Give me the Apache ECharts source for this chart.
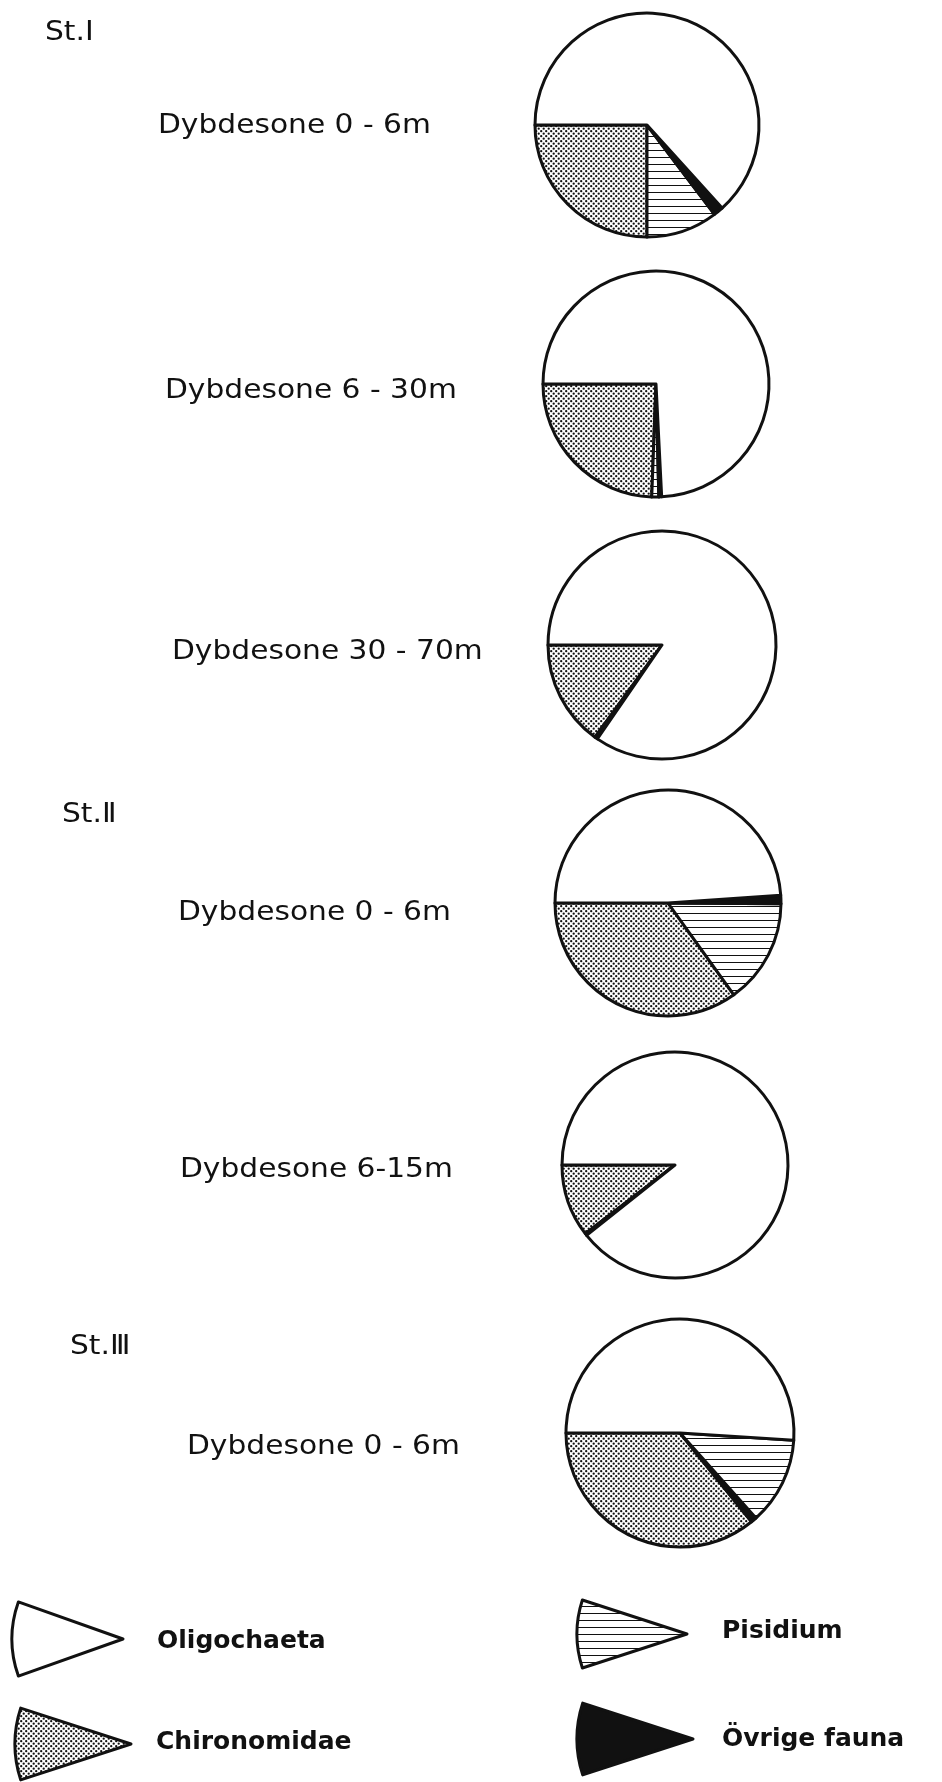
<!DOCTYPE html>
<html>
<head>
<meta charset="utf-8">
<script src="https://cdn.jsdelivr.net/npm/echarts@6/dist/echarts.min.js"></script>
<style>
  html, body { margin: 0; padding: 0; background: #fff; }
  #chart { width: 942px; height: 1782px; }
</style>
</head>
<body>
<div id="chart"></div>
<script>
// one pie per sampling depth
const depthLabels = ['Dybdesone 0 - 6m', 'Dybdesone 6 - 30m', 'Dybdesone 30 - 70m',
                     'Dybdesone 0 - 6m', 'Dybdesone 6-15m', 'Dybdesone 0 - 6m'];
const stationLabels = ['St.Ⅰ', 'St.Ⅱ', 'St.Ⅲ'];
const groups = ['Oligochaeta', 'Chironomidae', 'Pisidium', 'Övrige fauna'];

// share of the bottom fauna in each pie, percent
const oligochaeta  = [63.3, 74.2, 84.6, 48.9, 89.3, 51.0];
const chironomidae = [25.0, 24.4, 15.0, 34.9, 10.4, 35.8];
const pisidium     = [10.3,  1.0,  0.0, 15.0,  0.0, 12.4];
const ovrige       = [ 1.4,  0.4,  0.4,  1.2,  0.3,  0.8];

// order of the sectors, going down from 9 o'clock
const sectorOrder = [
  ['Chironomidae', 'Pisidium', 'Övrige fauna', 'Oligochaeta'],
  ['Chironomidae', 'Pisidium', 'Övrige fauna', 'Oligochaeta'],
  ['Chironomidae', 'Pisidium', 'Övrige fauna', 'Oligochaeta'],
  ['Chironomidae', 'Pisidium', 'Övrige fauna', 'Oligochaeta'],
  ['Chironomidae', 'Pisidium', 'Övrige fauna', 'Oligochaeta'],
  ['Chironomidae', 'Övrige fauna', 'Pisidium', 'Oligochaeta']
];

const shares = {
  'Oligochaeta': oligochaeta,
  'Chironomidae': chironomidae,
  'Pisidium': pisidium,
  'Övrige fauna': ovrige
};

// layout
const pieCenters = [[647, 125], [656, 384], [662, 645], [668, 903], [675, 1165], [680, 1433]];
const pieRadius = [112, 113, 114, 113, 113, 114];
const depthPos = [[158, 126], [165, 391], [172, 652], [178, 913], [180, 1170], [187, 1447]];
const stationPos = [[45, 33], [62, 815], [70, 1347]];
const legendPos = {
  'Oligochaeta':  { tip: [123, 1639], r: 111, half: 19.5, text: [157, 1641] },
  'Chironomidae': { tip: [131, 1744], r: 116, half: 18, text: [156, 1742] },
  'Pisidium':     { tip: [687, 1634], r: 110, half: 18, text: [722, 1631] },
  'Övrige fauna': { tip: [693, 1739], r: 116, half: 18, text: [722, 1739] }
};

// fills: plain, stipple, horizontal hatching, solid black
function dotTile() {
  const c = document.createElement('canvas');
  c.width = 5; c.height = 5;
  const g = c.getContext('2d');
  g.fillStyle = '#fff';
  g.fillRect(0, 0, 5, 5);
  g.fillStyle = '#111';
  [[1.2, 1.2], [3.7, 3.7]].forEach(function (p) {
    g.beginPath();
    g.arc(p[0], p[1], 1.15, 0, Math.PI * 2);
    g.fill();
  });
  return c;
}
function lineTile() {
  const c = document.createElement('canvas');
  c.width = 4; c.height = 7;
  const g = c.getContext('2d');
  g.fillStyle = '#fff';
  g.fillRect(0, 0, 4, 7);
  g.fillStyle = '#111';
  g.fillRect(0, 3, 4, 1);
  return c;
}
const fills = {
  'Oligochaeta': '#fff',
  'Chironomidae': { image: dotTile(), repeat: 'repeat' },
  'Pisidium': { image: lineTile(), repeat: 'repeat' },
  'Övrige fauna': '#111'
};

const series = pieCenters.map(function (c, i) {
  return {
    type: 'pie',
    center: c,
    radius: pieRadius[i],
    startAngle: 180,
    clockwise: false,
    silent: true,
    label: { show: false },
    labelLine: { show: false },
    itemStyle: { borderColor: '#111', borderWidth: 3, borderJoin: 'round' },
    data: sectorOrder[i]
      .map(function (k) {
        return { name: k, value: shares[k][i], itemStyle: { color: fills[k] } };
      })
      .filter(function (d) { return d.value > 0; })
  };
});

const graphic = [];
depthLabels.forEach(function (t, i) {
  graphic.push({
    type: 'text', x: depthPos[i][0], y: depthPos[i][1], scaleX: 1.1,
    style: { text: t, fill: '#111', font: '27px "DejaVu Sans"', textAlign: 'left', textVerticalAlign: 'middle' }
  });
});
stationLabels.forEach(function (t, i) {
  graphic.push({
    type: 'text', x: stationPos[i][0], y: stationPos[i][1], scaleX: 1.1,
    style: { text: t, fill: '#111', font: '27px "DejaVu Sans"', textAlign: 'left', textVerticalAlign: 'middle' }
  });
});

// legend: little wedges pointing right
groups.forEach(function (k) {
  const p = legendPos[k];
  const half = p.half * Math.PI / 180;
  graphic.push({
    type: 'sector',
    shape: { cx: p.tip[0], cy: p.tip[1], r: p.r, r0: 0, startAngle: Math.PI - half, endAngle: Math.PI + half },
    style: { fill: fills[k], stroke: '#111', lineWidth: 3, lineJoin: 'round' }
  });
  graphic.push({
    type: 'text', x: p.text[0], y: p.text[1],
    style: { text: k, fill: '#111', font: 'bold 25px "DejaVu Sans"', textAlign: 'left', textVerticalAlign: 'middle' }
  });
});

const chart = echarts.init(document.getElementById('chart'));
chart.setOption({
  backgroundColor: '#fff',
  animation: false,
  series: series,
  graphic: graphic
});
</script>
</body>
</html>
